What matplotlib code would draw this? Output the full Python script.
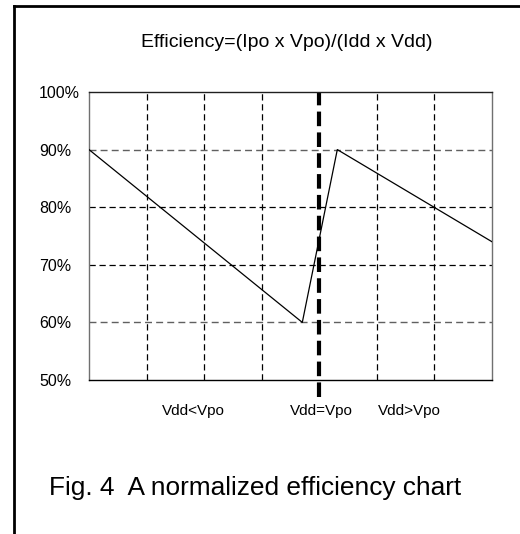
import matplotlib
matplotlib.use("Agg")
import matplotlib.pyplot as plt
from matplotlib.lines import Line2D
import numpy as np

plt.rcParams['font.family'] = ['Liberation Sans', 'DejaVu Sans']

# ---- data ----
x_vals = [0.0, 3.705, 4.313, 7.0]
eff_vals = [90, 60, 90, 74]
y_ticks = [50, 60, 70, 80, 90, 100]
y_labels = ["50%", "60%", "70%", "80%", "90%", "100%"]
x_label_pos = [1.82, 4.03, 5.56]
x_labels = ["Vdd<Vpo", "Vdd=Vpo", "Vdd>Vpo"]
v_grid = [1, 2, 3, 5, 6]
v_equal = 4
h_grid_black = [70, 80]
h_grid_gray = [60, 90]
title = "Efficiency=(Ipo x Vpo)/(Idd x Vdd)"
caption = "Fig. 4  A normalized efficiency chart"

W, H = 520, 534
fig = plt.figure(figsize=(W / 100, H / 100), dpi=100)
fig.patch.set_facecolor('white')

L, R, T, B = 89, 492, 92, 380
ax = fig.add_axes([L / W, 1 - B / H, (R - L) / W, (B - T) / H])
ax.set_xlim(0, 7)
ax.set_ylim(50, 100)

for v in v_grid:
    ax.axvline(v, color='black', lw=0.9, ls=(0, (5, 3)), zorder=1)
for h in h_grid_black:
    ax.axhline(h, color='black', lw=0.9, ls=(0, (5, 3)), zorder=1)
for h in h_grid_gray:
    ax.axhline(h, color='#606060', lw=1.0, ls=(0, (5, 3)), zorder=1)

ax.axvline(v_equal, ymin=-0.06, ymax=1, color='black', lw=3, ls=(0, (3.5, 1.5)),
           clip_on=False, zorder=2)

ax.plot(x_vals, eff_vals, color='black', lw=0.9, zorder=3)

ax.set_yticks(y_ticks, y_labels)
ax.tick_params(axis='y', length=0, pad=36, labelsize=11.5)
for lab in ax.get_yticklabels():
    lab.set_horizontalalignment('left')

ax.set_xticks(x_label_pos, x_labels)
ax.tick_params(axis='x', length=0, pad=17, labelsize=11)

ax.spines['left'].set_color('#707070')
ax.spines['right'].set_color('#707070')
ax.spines['top'].set_color('#202020')
ax.spines['bottom'].set_color('black')
for s in ax.spines.values():
    s.set_linewidth(1.0)

fig.text(287 / W, 1 - 47 / H, title, ha='center', va='baseline', fontsize=14)
fig.text(255.5 / W, 1 - 495 / H, caption, ha='center', va='baseline', fontsize=18.9)

# outer frame (top and left)
fig.add_artist(Line2D([14 / W, 1.0], [1 - 5.5 / H, 1 - 5.5 / H], color='black', lw=2,
                      transform=fig.transFigure))
fig.add_artist(Line2D([14 / W, 14 / W], [1 - 5.5 / H, 0.0], color='black', lw=2,
                      transform=fig.transFigure))

fig.savefig("out.png", dpi=100)
